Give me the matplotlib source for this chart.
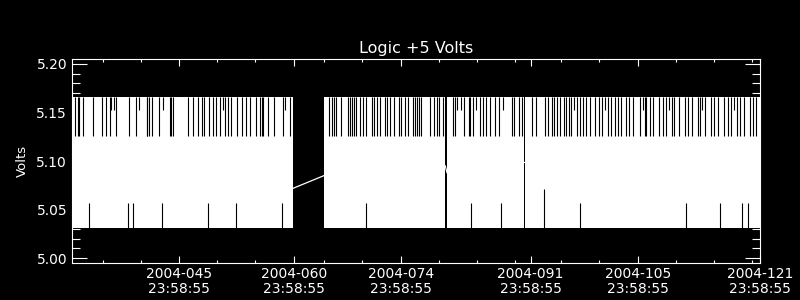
import numpy as np
import matplotlib
matplotlib.use("Agg")
import matplotlib.pyplot as plt
from matplotlib.ticker import FixedLocator, MultipleLocator, FixedFormatter

# time axis is day-of-year 2004 (with fraction of day)
seg_start = [31.999, 64.97, 81.05, 91.22]
seg_end = [60.95, 80.83, 91.09, 121.99]
seg_first = [None, 5.085, 5.088, 5.099]   # value where the trace picks up after a gap
seg_last = [5.072, 5.095, 5.099, None]    # value where the trace stops before a gap

band_lo = 5.031   # bottom of the dense telemetry band
band_hi = 5.166   # top of the dense telemetry band
dip_long_lvl = 5.126
dip_short_lvl = 5.153

# columns where the max only reached 5.126
dip_long = [32.33, 32.74, 32.95, 33.48, 34.78, 35.88, 36.41, 36.97, 37.72, 39.41,
            40.33, 41.78, 41.84, 42.11, 42.43, 43.38, 44.82, 44.99, 45.25, 47.13,
            47.87, 48.52, 49.05, 49.30, 49.95, 50.45, 50.90, 51.40, 52.05, 52.40,
            52.80, 53.60, 54.20, 54.75, 55.30, 56.13, 56.59, 56.82, 57.03, 57.61,
            58.40, 59.57, 60.51,
            65.62, 65.97, 66.27, 66.53, 67.20, 68.07, 68.37, 68.59, 68.89, 69.15,
            69.68, 70.11, 70.46, 71.20, 71.55, 71.90, 72.35, 72.90, 73.25, 73.60,
            74.10, 74.80, 75.10, 75.54, 75.99, 76.57, 76.87, 77.17, 77.39, 77.61,
            78.83, 79.36, 79.79, 80.05, 80.53, 81.88, 82.10, 83.28, 83.94, 84.00,
            84.50, 85.37, 85.73, 86.16, 86.70, 87.30, 87.90, 89.53, 89.86, 90.52,
            90.91, 92.15, 92.70, 93.81, 94.23, 94.80, 95.10, 95.50, 95.80, 96.30,
            96.60, 97.00, 97.30, 98.10, 98.50, 98.90, 99.30, 99.70, 100.40, 100.90,
            101.30, 102.10, 102.50, 103.00, 103.40, 103.80, 104.50, 104.90, 105.40,
            106.30, 106.90, 107.10, 107.60, 108.00, 108.80, 109.30, 109.70, 110.50,
            110.80, 111.40, 112.20, 112.60, 113.10, 113.90, 114.20, 114.80, 115.60,
            116.00, 116.50, 117.30, 117.80, 118.20, 119.00, 119.40, 119.90, 120.70,
            121.10, 121.50]
# columns where the max only reached 5.153
dip_short = [37.10, 37.45, 40.80, 43.94, 51.70, 59.86, 82.40, 82.85, 84.81, 88.42,
             97.70, 101.70, 106.70, 110.10, 114.40, 118.60]

# columns where the min stayed up at rise_val
rise_x = [34.26, 39.36, 40.02, 43.81, 49.79, 53.45, 59.51, 70.42, 84.20, 88.16,
          93.75, 98.46, 112.32, 116.77, 119.65, 120.43]
rise_val = [5.057, 5.057, 5.057, 5.057, 5.057, 5.057, 5.057, 5.057, 5.057, 5.057,
            5.071, 5.057, 5.057, 5.057, 5.057, 5.057]

major_days = [45.999, 60.999, 74.999, 91.999, 105.999, 121.999]
major_labels = ["2004-045\n23:58:55", "2004-060\n23:58:55", "2004-074\n23:58:55",
                "2004-091\n23:58:55", "2004-105\n23:58:55", "2004-121\n23:58:55"]
minor_days = [36.0, 41.0, 51.0, 56.0, 65.0, 70.0, 80.0, 85.0, 90.0, 96.0,
              101.0, 111.0, 116.0, 121.0]

fig = plt.figure(figsize=(8, 3), dpi=100, facecolor="black")
ax = fig.add_axes([0.09, 0.1233, 0.86, 0.68], facecolor="black")

# dense band of the telemetry trace
for s, e in zip(seg_start, seg_end):
    ax.fill_between([s, e], band_lo, band_hi, color="white", lw=0)

# lines bridging data gaps
for i in range(len(seg_start) - 1):
    ax.plot([seg_end[i], seg_start[i + 1]], [seg_last[i], seg_first[i + 1]],
            color="white", lw=0.9)

# columns where the trace did not reach the band edges
ax.vlines(dip_long, dip_long_lvl, band_hi, colors="black", lw=0.8)
ax.vlines(dip_short, dip_short_lvl, band_hi, colors="black", lw=0.8)
ax.vlines(rise_x, band_lo, rise_val, colors="black", lw=0.8)

ax.set_xlim(31.999, 121.999)
ax.set_ylim(4.995, 5.205)

ax.xaxis.set_major_locator(FixedLocator(major_days))
ax.xaxis.set_major_formatter(FixedFormatter(major_labels))
ax.xaxis.set_minor_locator(FixedLocator(minor_days))
ax.yaxis.set_major_locator(MultipleLocator(0.05))
ax.yaxis.set_minor_locator(MultipleLocator(0.01))
ax.yaxis.set_major_formatter(matplotlib.ticker.FormatStrFormatter("%.2f"))

ax.tick_params(axis="both", which="both", direction="in", colors="white",
               top=True, right=True, width=0.8)
ax.tick_params(axis="x", which="major", length=4.7, pad=3, labelsize=10)
ax.tick_params(axis="x", which="minor", length=2.4)
ax.tick_params(axis="y", which="major", length=10.6, pad=3.5, labelsize=10)
ax.tick_params(axis="y", which="minor", length=5.8)
for lbl in ax.get_xticklabels():
    lbl.set_linespacing(1.05)

for sp in ax.spines.values():
    sp.set_color("white")
    sp.set_linewidth(0.8)

ax.set_title("Logic +5 Volts", color="white", fontsize=11.5, pad=4)
ax.set_ylabel("Volts", color="white", fontsize=9.5)
ax.yaxis.set_label_coords(-0.062, 0.5)

fig.savefig("out.png", dpi=100, facecolor="black")
